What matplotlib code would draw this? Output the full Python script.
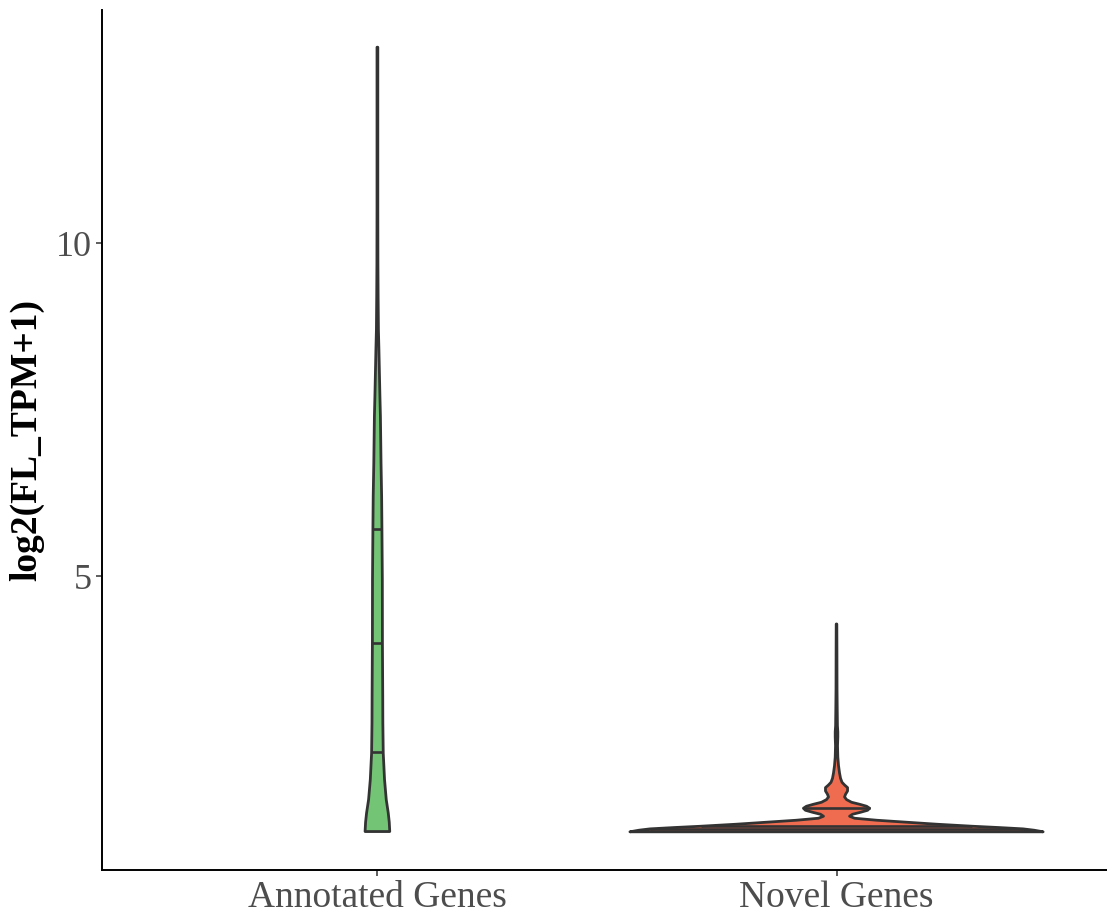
import numpy as np
import matplotlib
matplotlib.use('Agg')
import matplotlib.pyplot as plt

# Categories and fill colours
categories = ['Annotated Genes', 'Novel Genes']
fill_colors = ['#74C476', '#EF6C50']

# Density profile (log2 value, relative density)
annot_y = [1.16, 1.30, 1.44, 1.64, 1.94, 2.34, 2.80, 3.20, 4.00, 4.95, 5.70,
           6.20, 6.70, 7.40, 7.70, 8.40, 8.70, 9.20, 9.70, 10.50, 12.95]
annot_d = [12.3, 11.8, 10.8, 8.8, 7.1, 5.8, 5.4, 5.3, 5.0, 4.9, 4.5,
           4.2, 3.6, 3.0, 2.5, 1.5, 1.0, 0.7, 0.5, 0.4, 0.4]

novel_y = [1.156, 1.18, 1.20, 1.22, 1.24, 1.27, 1.30, 1.33, 1.36, 1.39, 1.42,
           1.45, 1.48, 1.51, 1.54, 1.57, 1.60, 1.64, 1.68, 1.72, 1.77, 1.82,
           1.86, 1.90, 1.96, 2.04, 2.15, 2.28, 2.45, 2.58, 2.66, 2.75, 3.00,
           3.30, 3.90, 4.28]
novel_d = [206, 197, 186, 162, 135, 100, 70, 40, 18, 13, 16,
           24, 31, 33, 30, 23, 15, 10, 8, 9, 11, 11,
           8, 5.5, 4, 3, 2, 1.3, 1.0, 1.3, 1.3, 0.9, 0.7,
           0.5, 0.4, 0.3]

# Quantiles (25%, 50%, 75%)
annot_q = [2.36, 4.00, 5.71]
novel_q = [1.20, 1.24, 1.51]

profiles = [(annot_y, annot_d, annot_q), (novel_y, novel_d, novel_q)]

plt.rcParams['font.family'] = ['Liberation Serif', 'DejaVu Serif']

fig = plt.figure(figsize=(11.07, 9.13), dpi=100)
ax = fig.add_axes([0.0921, 0.0471, 0.9124, 0.942])

# scale="area": widths relative to the largest density overall
dmax = max(max(annot_d), max(novel_d))
edge = '#333333'
for i, (ys, ds, qs) in enumerate(profiles):
    pos = i + 1
    ys = np.array(ys)
    w = 0.45 * np.array(ds) / dmax
    xs = np.concatenate([pos + w, (pos - w)[::-1]])
    yy = np.concatenate([ys, ys[::-1]])
    ax.fill(xs, yy, facecolor=fill_colors[i], edgecolor=edge, linewidth=2.0,
            joinstyle='round', zorder=2)
    for q in qs:
        hw = np.interp(q, ys, w)
        ax.plot([pos - hw, pos + hw], [q, q], color=edge, linewidth=1.9,
                solid_capstyle='butt', zorder=3)

ax.set_xlim(0.4, 2.6)
ax.set_ylim(0.582, 13.51)
ax.set_xticks([1, 2])
ax.set_xticklabels(categories)
ax.set_yticks([5, 10])

for side in ['top', 'right']:
    ax.spines[side].set_visible(False)
for side in ['left', 'bottom']:
    ax.spines[side].set_linewidth(1.4)
    ax.spines[side].set_color('black')

ax.tick_params(axis='both', length=4.5, width=1.1, color='#333333',
               labelcolor='#4D4D4D', labelsize=27, pad=3)
ax.tick_params(axis='y', labelsize=26)
ax.set_ylabel('log2(FL_TPM+1)', fontsize=27, fontweight='bold',
              color='black', labelpad=8)

fig.savefig('out.png', dpi=100)
